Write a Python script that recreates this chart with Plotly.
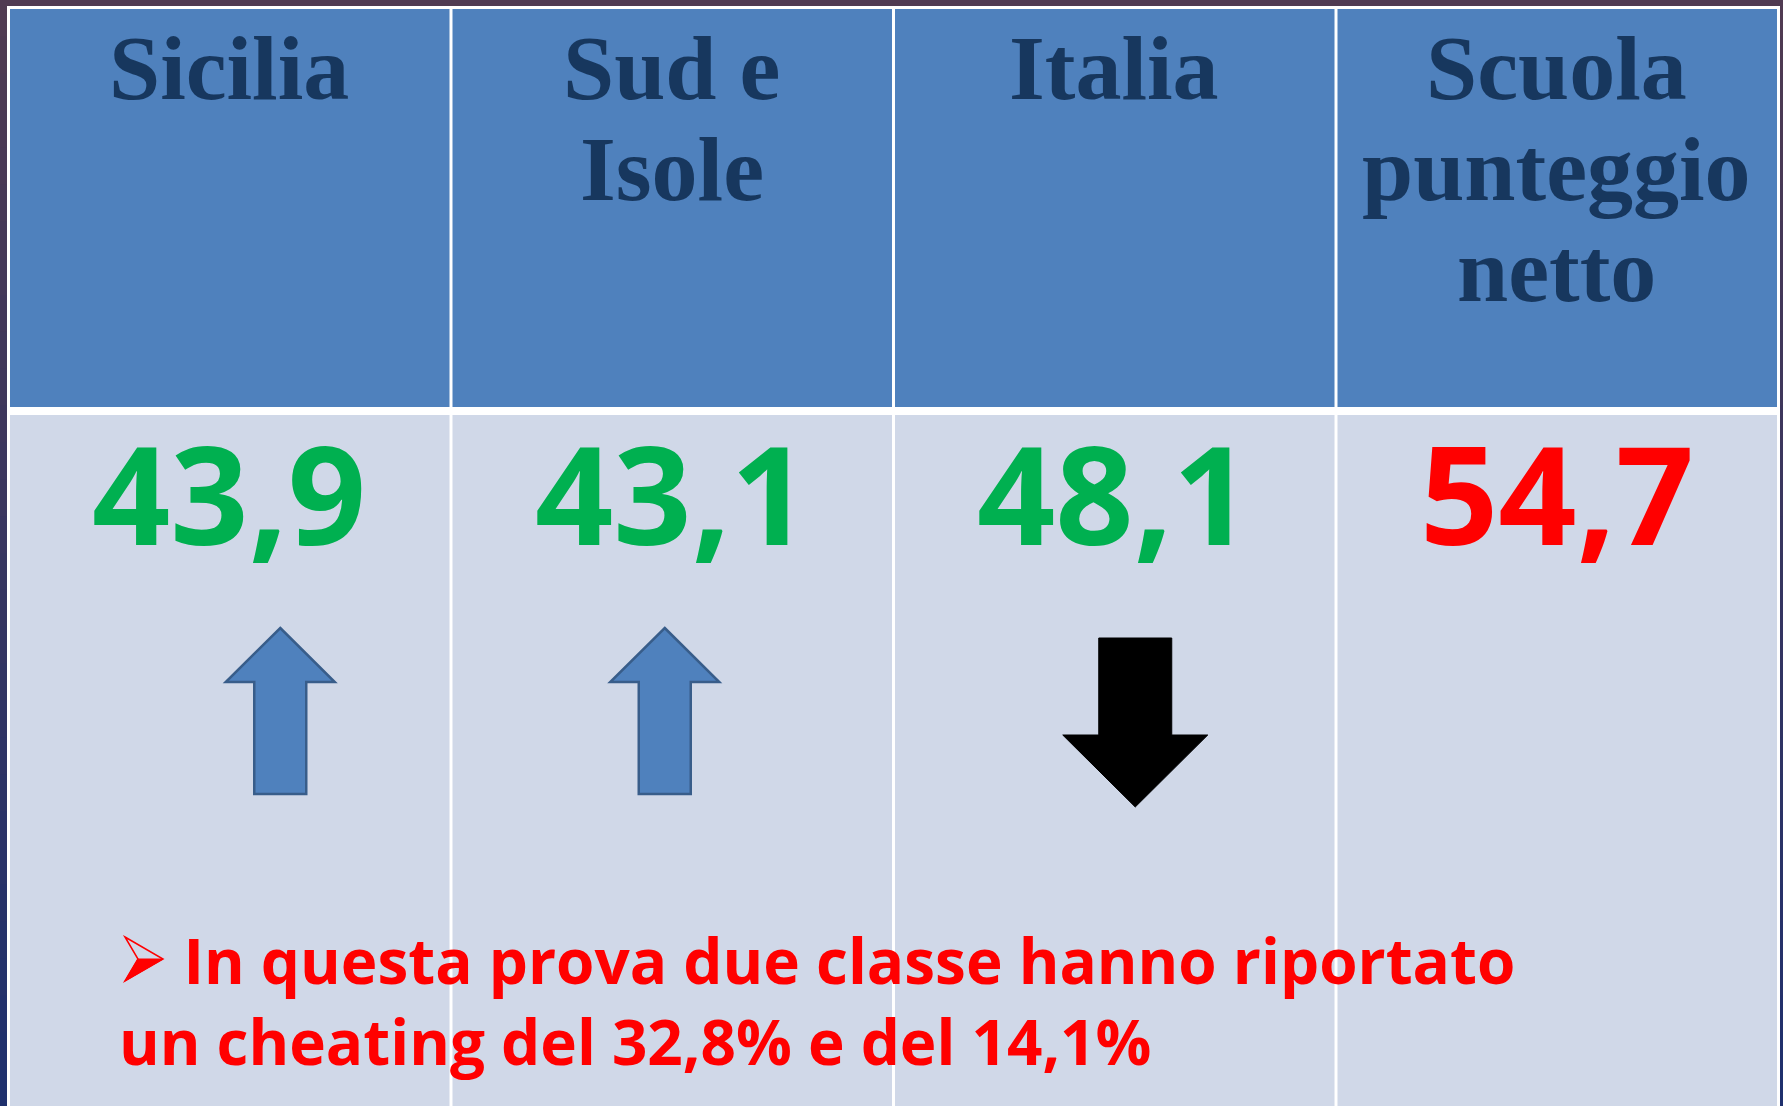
import plotly.graph_objects as go

# ---- data ----
regions = ["Sicilia", "Sud e<br>Isole", "Italia", "Scuola<br>punteggio<br>netto"]
scores = ["43,9", "43,1", "48,1", "54,7"]
score_colors = ["#00b050", "#00b050", "#00b050", "#ff0000"]
trend = ["up", "up", "down", None]
note_lines = ["In questa prova due classe hanno riportato",
              "un cheating del 32,8% e del 14,1%"]

# ---- layout helpers (pixel geometry of the slide) ----
W, H = 1783, 1106
COL_W = 442.5
LEFT = 8.0
arrow_dx_px = [51, -7, 21, 0]


def X(px):
    return -0.5 + (px - LEFT) / COL_W


def xpx(col, dpx):
    return col + dpx / COL_W


fig = go.Figure()
shapes = []
annotations = []

# background gradient (slide)
top_c = (0x50, 0x3b, 0x52)
bot_c = (0x1f, 0x30, 0x6d)
N = 30
for k in range(N):
    t = k / (N - 1)
    c = tuple(int(top_c[j] + (bot_c[j] - top_c[j]) * t) for j in range(3))
    shapes.append(dict(type="rect", xref="x", yref="y", x0=X(0), x1=X(W),
                       y0=H * k / N, y1=H * (k + 1) / N + 1,
                       fillcolor="rgb(%d,%d,%d)" % c, line_width=0, layer="below"))

# white table base (borders)
shapes.append(dict(type="rect", xref="x", yref="y", x0=X(7), x1=X(1780), y0=6, y1=H,
                   fillcolor="white", line_width=0, layer="below"))

HEAD_TOP, HEAD_BOT, BODY_TOP = 9, 407, 415
for i, name in enumerate(regions):
    x0 = i - 0.5 + 2 / COL_W
    x1 = min(i + 0.5 - 1 / COL_W, X(1777))
    shapes.append(dict(type="rect", xref="x", yref="y", x0=x0, x1=x1, y0=HEAD_TOP, y1=HEAD_BOT,
                       fillcolor="#4f81bd", line_width=0, layer="below"))
    shapes.append(dict(type="rect", xref="x", yref="y", x0=x0, x1=x1, y0=BODY_TOP, y1=H,
                       fillcolor="#d0d8e8", line_width=0, layer="below"))
    # header text, one annotation per line
    for j, line in enumerate(name.split("<br>")):
        annotations.append(dict(x=i, y=68 + j * 101, xref="x", yref="y", text=line,
                                showarrow=False, xanchor="center", yanchor="middle",
                                font=dict(family="Liberation Serif", size=92, color="#17375e",
                                          weight="bold")))
    # score
    annotations.append(dict(x=i, y=492, xref="x", yref="y", text="<b>%s</b>" % scores[i],
                            showarrow=False, xanchor="center", yanchor="middle",
                            font=dict(family="Open Sans", size=137, color=score_colors[i])))
    # arrows
    if trend[i] == "up":
        cx = arrow_dx_px[i]
        tip, hb, bot, hw, sw = 628, 682, 794, 54.5, 26
        pts = [(cx, tip), (cx + hw, hb), (cx + sw, hb), (cx + sw, bot), (cx - sw, bot),
               (cx - sw, hb), (cx - hw, hb)]
        path = "M " + " L ".join("%f,%f" % (xpx(i, dx), y) for dx, y in pts) + " Z"
        shapes.append(dict(type="path", xref="x", yref="y", path=path,
                           fillcolor="#4f81bd", line=dict(color="#385d8a", width=2.5)))
    elif trend[i] == "down":
        cx = arrow_dx_px[i]
        top, hb, tip, hw, sw = 638, 735, 807, 72.5, 36.5
        pts = [(cx - sw, top), (cx + sw, top), (cx + sw, hb), (cx + hw, hb), (cx, tip),
               (cx - hw, hb), (cx - sw, hb)]
        path = "M " + " L ".join("%f,%f" % (xpx(i, dx), y) for dx, y in pts) + " Z"
        shapes.append(dict(type="path", xref="x", yref="y", path=path,
                           fillcolor="black", line=dict(color="black", width=1)))

# bullet arrowhead
b_out = [(125, 937), (163, 959), (125, 981), (138, 959)]
path = "M " + " L ".join("%f,%f" % (X(px), y) for px, y in b_out) + " Z"
shapes.append(dict(type="path", xref="x", yref="y", path=path,
                   fillcolor="rgba(0,0,0,0)", line=dict(color="#ff0000", width=1.5)))
b_in = [(138, 959), (163, 959), (125, 981)]
path = "M " + " L ".join("%f,%f" % (X(px), y) for px, y in b_in) + " Z"
shapes.append(dict(type="path", xref="x", yref="y", path=path,
                   fillcolor="#ff0000", line=dict(color="#ff0000", width=1)))

# note text (single block; first line indented past the bullet)
note_text = "<b>" + "&nbsp;" * 4 + note_lines[0] + "<br>" + note_lines[1] + "</b>"
annotations.append(dict(x=X(117), y=1000, xref="x", yref="y", text=note_text,
                        showarrow=False, xanchor="left", yanchor="middle", align="left",
                        font=dict(family="Open Sans", size=62, color="#ff0000")))

fig.update_layout(
    width=W, height=H,
    margin=dict(l=0, r=0, t=0, b=0, pad=0),
    paper_bgcolor="#2a3466", plot_bgcolor="rgba(0,0,0,0)",
    shapes=shapes, annotations=annotations,
    xaxis=dict(range=[X(0), X(W)], visible=False, fixedrange=True),
    yaxis=dict(range=[H, 0], visible=False, fixedrange=True),
    showlegend=False,
)

fig.write_html("out.html", config={"displayModeBar": False},
               post_script="document.body.style.margin='0';document.body.style.overflow='hidden';")
